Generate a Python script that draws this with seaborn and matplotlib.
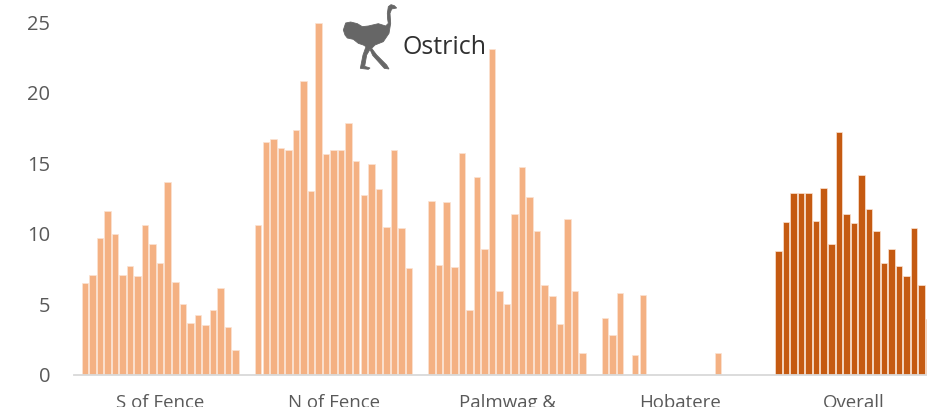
import numpy as np
import pandas as pd
import seaborn as sns
import matplotlib
matplotlib.use("Agg")
import matplotlib.pyplot as plt
from matplotlib.patches import Polygon

# ---- data ----
group_labels = ["S of Fence", "N of Fence", "Palmwag &", "Hobatere", "Overall"]
s_of_fence = [6.5, 7.1, 9.7, 11.6, 10.0, 7.05, 7.75, 7.0, 10.6, 9.3, 7.9, 13.7, 6.6, 5.0, 3.65, 4.25, 3.55, 4.6, 6.15, 3.4, 1.75]
n_of_fence = [10.6, 16.5, 16.7, 16.05, 15.9, 17.35, 20.85, 13.0, 24.95, 15.65, 15.95, 15.9, 17.85, 15.15, 12.75, 14.95, 13.15, 10.5, 15.9, 10.4, 7.55]
palmwag = [12.35, 7.8, 12.25, 7.65, 15.7, 4.6, 14.0, 8.9, 23.1, 5.95, 5.05, 11.4, 14.75, 12.6, 10.2, 6.4, 5.6, 3.6, 11.05, 5.95, 1.55]
hobatere = [4.05, 2.85, 5.8, 0, 1.45, 5.7, 0, 0, 0, 0, 0, 0, 0, 0, 0, 1.55, 0, 0, 0, 0, 0]
overall = [8.8, 10.85, 12.9, 12.9, 12.9, 10.9, 13.25, 9.3, 17.2, 11.4, 10.75, 14.15, 11.75, 10.2, 7.95, 8.9, 7.7, 7.0, 10.4, 6.35, 4.0]
group_starts = [0, 23, 46, 69, 92]
y_ticks = [0, 5, 10, 15, 20, 25]

# silhouette outline of the ostrich icon, in reference pixels / 3 from (335, 0)
ostrich_x = [185, 178, 168, 160, 157, 158, 160, 152, 130, 100, 82, 67, 47, 32, 25, 30, 37, 55, 70, 85, 93, 84, 76, 100, 105, 89, 95, 105, 113, 148, 162, 155, 125, 110, 120, 145, 162, 167, 165, 170]
ostrich_y = [24, 17, 14, 20, 40, 58, 70, 78, 71, 78, 80, 71, 66, 69, 90, 105, 114, 118, 130, 135, 140, 165, 205, 208, 204, 199, 165, 148, 166, 205, 207, 195, 165, 145, 135, 125, 100, 70, 40, 27]

# ---- layout ----
W, H = 928, 407
FONT = ["Open Sans", "DejaVu Sans"]
sns.set_theme(style="white")
plt.rcParams["font.family"] = FONT

series = [s_of_fence, n_of_fence, palmwag, hobatere, overall]
df = pd.concat(
    [
        pd.DataFrame(
            {
                "pos": start + np.arange(len(vals)),
                "value": vals,
                "kind": "overall" if lab == "Overall" else "site",
            }
        )
        for start, vals, lab in zip(group_starts, series, group_labels)
    ],
    ignore_index=True,
)

fig = plt.figure(figsize=(W / 100, H / 100), dpi=100, facecolor="white")
AX_LEFT, AX_BASE = 74, 375
ax = fig.add_axes([AX_LEFT / W, (H - AX_BASE) / H, 1 - AX_LEFT / W, AX_BASE / H])

sns.barplot(
    data=df, x="pos", y="value", hue="kind",
    palette={"site": "#F4B183", "overall": "#C55A11"},
    native_scale=True, dodge=False, width=0.86, legend=False, ax=ax,
    linewidth=0.5, edgecolor="#FBE3D3", saturation=1,
)

STEP, FIRST = 7.54, 84.8
ax.set_xlim((AX_LEFT - FIRST) / STEP, (W - FIRST) / STEP)
ax.set_ylim(0, AX_BASE / 14.12)
ax.set_xlabel("")
ax.set_ylabel("")

ax.set_yticks(y_ticks)
ax.set_yticklabels([str(t) for t in y_ticks])
ax.tick_params(axis="y", length=0, pad=17, labelsize=14.5, labelcolor="#595959")

ax.set_xticks([s + 10 for s in group_starts])
ax.set_xticklabels(group_labels)
ax.tick_params(axis="x", length=0, pad=14, labelsize=13.4, labelcolor="#595959")

for side in ("top", "left", "right"):
    ax.spines[side].set_visible(False)
ax.spines["bottom"].set_color("#D9D9D9")
ax.spines["bottom"].set_linewidth(1.3)

# ostrich icon and its caption
pts = np.column_stack(
    [(335 + np.array(ostrich_x) / 3) / W, 1 - (np.array(ostrich_y) / 3) / H]
)
fig.add_artist(Polygon(pts, closed=True, transform=fig.transFigure,
                       facecolor="#666666", edgecolor="#666666", linewidth=0.6))
fig.text(403 / W, 1 - 48 / H, "Ostrich", fontsize=18, color="#303030",
         ha="left", va="center", family=FONT)

fig.savefig("out.png", dpi=100)
